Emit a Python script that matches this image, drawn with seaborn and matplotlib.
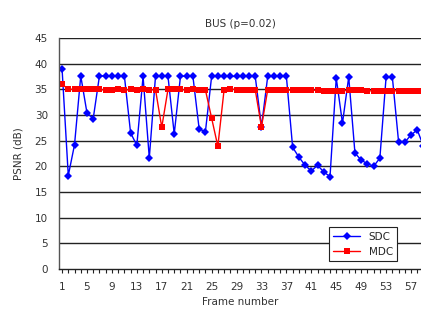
import numpy as np
import pandas as pd
import matplotlib
matplotlib.use("Agg")
import matplotlib.pyplot as plt
import seaborn as sns

# frame numbers (59th lies past the right edge, as in the original)
frames = list(range(1, 60))

sdc = [39.0, 18.2, 24.2, 37.6, 30.4, 29.3, 37.6, 37.6, 37.6, 37.6,
       37.6, 26.5, 24.1, 37.5, 21.6, 37.6, 37.6, 37.5, 26.3, 37.5,
       37.6, 37.5, 27.3, 26.7, 37.5, 37.5, 37.5, 37.5, 37.5, 37.5,
       37.5, 37.5, 27.7, 37.5, 37.5, 37.5, 37.5, 23.7, 21.8, 20.2,
       19.1, 20.2, 18.9, 18.0, 37.2, 28.4, 37.4, 22.6, 21.2, 20.5,
       20.0, 21.6, 37.4, 37.4, 24.8, 24.7, 26.1, 27.1, 23.9]

mdc = [36.0, 35.0, 35.0, 35.0, 35.0, 35.0, 35.0, 34.8, 34.8, 35.0,
       34.8, 35.0, 34.8, 35.1, 34.9, 34.9, 27.6, 35.0, 35.0, 35.0,
       34.8, 35.1, 34.9, 34.9, 29.4, 23.9, 34.9, 35.1, 34.9, 34.9,
       34.9, 34.9, 27.7, 34.9, 34.9, 34.9, 34.9, 34.8, 34.8, 34.8,
       34.8, 34.8, 34.7, 34.7, 34.7, 34.7, 34.8, 34.8, 34.8, 34.7,
       34.7, 34.7, 34.7, 34.7, 34.7, 34.7, 34.7, 34.7, 34.7]

df = pd.DataFrame({
    "Frame": frames * 2,
    "PSNR": sdc + mdc,
    "Method": ["SDC"] * len(frames) + ["MDC"] * len(frames),
})

sns.set_style("white")
plt.rcParams["font.family"] = ["DejaVu Sans"]

fig = plt.figure(figsize=(4.21, 3.11), dpi=100)
ax = fig.add_axes([0.140, 0.135, 0.86, 0.743])

for y in range(5, 50, 5):
    ax.axhline(y, color="#222222", lw=1.0, zorder=0)

sns.lineplot(data=df, x="Frame", y="PSNR", hue="Method", style="Method",
             palette={"SDC": "#0000ff", "MDC": "#ff0000"},
             markers={"SDC": "D", "MDC": "s"}, dashes=False,
             markersize=4.3, markeredgewidth=0, linewidth=1.0, ax=ax)
# bigger squares for MDC
for line in ax.get_lines():
    if line.get_marker() == "s":
        line.set_markersize(5)

ax.set_xlim(0.5, 58.6)
ax.set_ylim(0, 45)
ax.set_yticks(range(0, 50, 5))
ax.set_xticks(range(1, 58, 4))
ax.set_xticks(range(1, 59), minor=True)
ax.tick_params(axis="y", length=0, pad=8, labelsize=7.5, colors="#333333")
ax.tick_params(axis="x", which="both", direction="out", length=3, width=0.8,
               color="#222222", pad=6, labelsize=7.5, labelcolor="#333333",
               bottom=True)

for s in ["top", "right"]:
    ax.spines[s].set_visible(False)
ax.spines["left"].set_color("#555555")
ax.spines["left"].set_linewidth(1.0)
ax.spines["bottom"].set_color("#222222")
ax.spines["bottom"].set_linewidth(1.0)

ax.set_title("BUS (p=0.02)", fontsize=7.5, color="#333333", pad=8)
ax.set_xlabel("Frame number", fontsize=7.5, color="#333333", labelpad=4)
ax.set_ylabel("PSNR (dB)", fontsize=7.5, color="#333333", labelpad=8)

handles, labels = ax.get_legend_handles_labels()
leg = ax.legend(handles, labels, loc="lower right",
                bbox_to_anchor=(0.934, 0.035), fontsize=7.5,
                frameon=True, fancybox=False, borderpad=0.4,
                handlelength=2.6, labelspacing=0.5, borderaxespad=0)
leg.get_frame().set_edgecolor("#222222")
leg.get_frame().set_linewidth(0.8)
leg.get_frame().set_alpha(1)

fig.savefig("out.png", dpi=100)
